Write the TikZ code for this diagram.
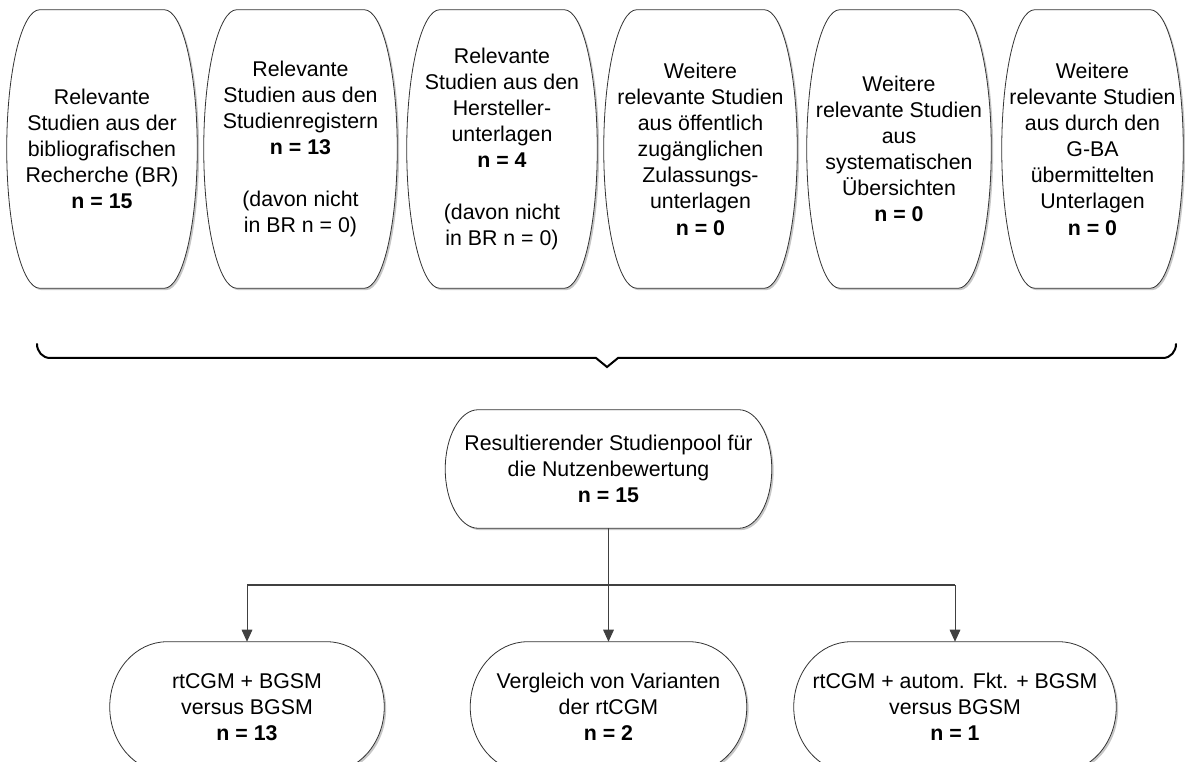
\documentclass[tikz,border=0pt]{standalone}
\usepackage{fontspec}
\setmainfont{Liberation Sans}
\usetikzlibrary{arrows.meta,calc,backgrounds,shadows}
\tikzset{
  txt/.style={font=\fontsize{16pt}{19.6pt}\selectfont, align=center, inner sep=0pt, draw=none},
  outline/.style={draw=black!80, line width=0.6pt, fill=white,
    drop shadow={shadow xshift=1.4pt, shadow yshift=-1.4pt, fill=black, opacity=0.22}},
  conn/.style={draw=black!75, line width=0.75pt},
  arr/.style={conn, -{Triangle[length=9pt,width=8pt]}},
  bus/.style={draw=black!75, line width=1.5pt},
  brace/.style={draw=black, line width=1.5pt, line cap=round},
}
\begin{document}
\begin{tikzpicture}[x=0.75pt,y=-0.75pt]
\useasboundingbox (0,0) rectangle (1185,762);

% top sources
\node[txt, minimum width=190*0.75pt, minimum height=278*0.75pt] (t1) at (102,149)
  {Relevante\\Studien aus der\\bibliografischen\\Recherche (BR)\\\textbf{n = 15}};
\node[txt, minimum width=193*0.75pt, minimum height=278*0.75pt] (t2) at (300.5,149)
  {Relevante\\Studien aus den\\Studienregistern\\\textbf{n = 13}\\~\\(davon nicht\\in BR n = 0)};
\node[txt, minimum width=190*0.75pt, minimum height=278*0.75pt] (t3) at (502,149)
  {Relevante\\Studien aus den\\Hersteller-\\unterlagen\\\textbf{n = 4}\\~\\(davon nicht\\in BR n = 0)};
\node[txt, minimum width=193*0.75pt, minimum height=278*0.75pt] (t4) at (700.5,149)
  {Weitere\\relevante Studien\\aus öffentlich\\zugänglichen\\Zulassungs-\\unterlagen\\\textbf{n = 0}};
\node[txt, minimum width=184*0.75pt, minimum height=278*0.75pt] (t5) at (899,149)
  {Weitere\\relevante Studien\\aus\\systematischen\\Übersichten\\\textbf{n = 0}};
\node[txt, minimum width=181*0.75pt, minimum height=278*0.75pt] (t6) at (1092.5,149)
  {Weitere\\relevante Studien\\aus durch den\\G-BA\\übermittelten\\Unterlagen\\\textbf{n = 0}};

% pool
\node[txt, minimum width=326*0.75pt, minimum height=118*0.75pt] (pool) at (608.5,469)
  {Resultierender Studienpool für\\die Nutzenbewertung\\\textbf{n = 15}};

% results
\node[txt, minimum width=274*0.75pt, minimum height=130*0.75pt] (r1) at (247,707)
  {rtCGM + BGSM\\versus BGSM\\\textbf{n = 13}};
\node[txt, minimum width=276*0.75pt, minimum height=130*0.75pt] (r2) at (608.5,707)
  {Vergleich von Varianten\\der rtCGM\\\textbf{n = 2}};
\node[txt, minimum width=322*0.75pt, minimum height=130*0.75pt] (r3) at (955,707)
  {rtCGM + autom. Fkt. + BGSM\\versus BGSM\\\textbf{n = 1}};

% outlines
\begin{pgfonlayer}{background}
\foreach \nm/\ra in {t1/24.75pt,t2/24.75pt,t3/24.75pt,t4/24.75pt,t5/24.75pt,t6/24.75pt,pool/24.75pt,r1/43pt,r2/43pt,r3/43pt}{
  \path[outline] let \p1=(\nm.north west), \p2=(\nm.south east), \n1={(\y1-\y2)/2} in
    (\x1+\ra,\y1) -- (\x2-\ra,\y1)
    arc[start angle=90,end angle=-90,x radius=\ra,y radius=\n1]
    -- (\x1+\ra,\y2)
    arc[start angle=270,end angle=90,x radius=\ra,y radius=\n1] -- cycle;
}
\end{pgfonlayer}

% brace
\coordinate (brL) at (37,344);
\coordinate (brR) at (1176,344);
\coordinate (brM) at (607,367);
\draw[brace] (brL) to[out=-90,in=180] (50,358) -- (596,358) -- (brM) -- (618,358)
  -- (1163,358) to[out=0,in=-90] (brR);

% connectors
\coordinate (busy) at (0,585);
\coordinate (bL) at (r1.north |- busy);
\coordinate (bR) at (r3.north |- busy);
\draw[bus] (bL) -- (bR);
\draw[arr] (bL) -- (r1.north);
\draw[arr] (bR) -- (r3.north);
\draw[arr] (pool.south) -- (r2.north);
\end{tikzpicture}
\end{document}
